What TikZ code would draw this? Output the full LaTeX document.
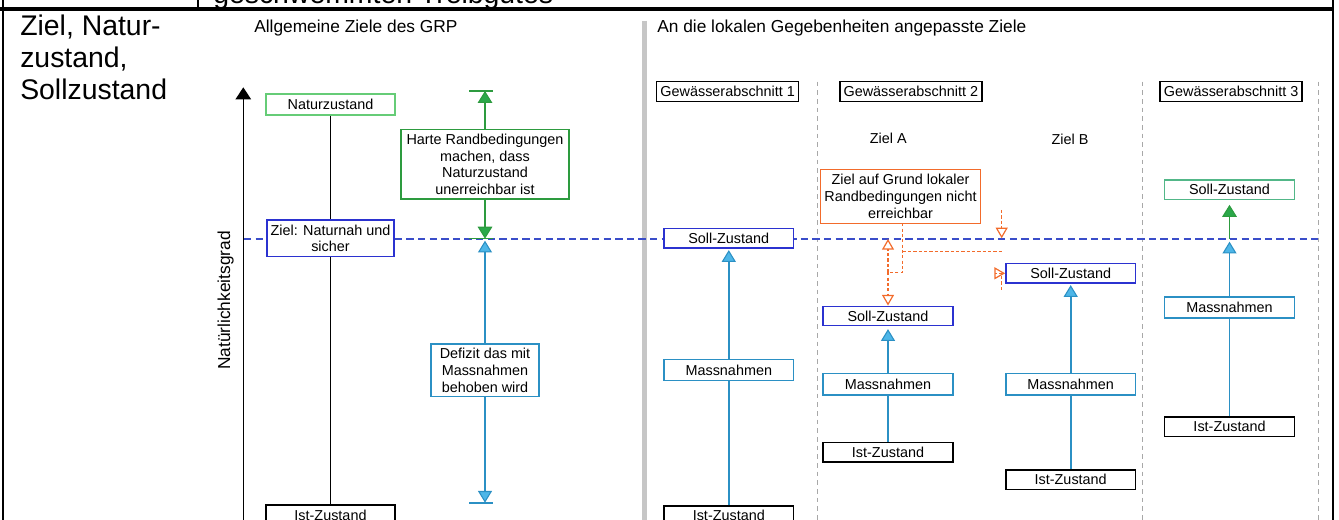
\documentclass[tikz,border=0pt]{standalone}
\usepackage{fontspec}
\setmainfont{Liberation Sans}
\usetikzlibrary{arrows.meta,calc}
\definecolor{cNat}{HTML}{66CC77}
\definecolor{cGreen}{HTML}{2D9B3F}
\definecolor{cGreenFill}{HTML}{2BA84A}
\definecolor{cSollG}{HTML}{52B788}
\definecolor{cBlue}{HTML}{2B32D0}
\definecolor{cBlueDash}{HTML}{3A4DC9}
\definecolor{cTeal}{HTML}{2B90C4}
\definecolor{cTealFill}{HTML}{4DB6E8}
\definecolor{cOrange}{HTML}{F26B2B}
\definecolor{cGrayDash}{HTML}{A8A8A8}
\definecolor{cGrayBar}{HTML}{C6C6C6}
\begin{document}
\begin{tikzpicture}[x=0.75pt,y=-0.75pt,
  every node/.style={inner sep=0pt},
  bx/.style={draw, fill=white, align=center, line width=1.1pt, font=\fontsize{10.8pt}{12.5pt}\selectfont},
  lbl/.style={font=\fontsize{10.8pt}{12.5pt}\selectfont},
  head/.style={font=\fontsize{13pt}{15pt}\selectfont},
  big/.style={font=\fontsize{21.3pt}{24pt}\selectfont},
  rs/.style={minimum width=97.3pt, minimum height=14.6pt},
  rm/.style={minimum width=97.3pt, minimum height=15.9pt},
  gab/.style={bx, draw=black, minimum width=106.5pt, minimum height=15pt},
  blk/.style={draw=black, line width=1.05pt},
  greenline/.style={draw=cGreen, line width=1.2pt},
  tealline/.style={draw=cTeal, line width=1.2pt},
  greentip/.style={-{Triangle[width=11pt,length=9pt,fill=cGreenFill,line width=0.8pt]}},
  tealtip/.style={-{Triangle[width=10.5pt,length=8.8pt,fill=cTealFill,line width=0.8pt]}},
  odash/.style={draw=cOrange, line width=1.1pt, dash pattern=on 2.4pt off 1.6pt},
  otip/.style={-{Triangle[open,width=9pt,length=8pt,line width=0.9pt]}},
  tbl/.style={draw=black, line width=1.6pt}
]
\useasboundingbox (0,0) rectangle (1339,520);

% table frame
\coordinate (tl) at (0,9); \coordinate (tr) at (1334,9);
\coordinate (lt) at (3,0); \coordinate (lb) at (3,520);
\coordinate (rt) at (1333,0); \coordinate (rb) at (1333,520);
\coordinate (ct) at (198,0); \coordinate (cb) at (198,9);
\draw[tbl, line width=2.3pt] (tl) -- (tr);
\draw[tbl] (lt) -- (lb);
\draw[tbl] (rt) -- (rb);
\draw[tbl] (ct) -- (cb);
\node[big, anchor=base west] (top) at (213,4) {geschwemmten Treibgutes};

% left cell title
\node[big, anchor=base west] (t1) at (20,35.7) {Ziel, Natur-};
\node[big, anchor=base west] (t2) at (20,68) {zustand,};
\node[big, anchor=base west] (t3) at (20,100) {Sollzustand};

% headings
\node[head, anchor=base west] (h1) at (254,32.7) {Allgemeine Ziele des GRP};
\node[head, anchor=base west] (h2) at (657,32.7) {An die lokalen Gegebenheiten angepasste Ziele};

% gray separators
\coordinate (gbT) at (644.5,20.7); \coordinate (gbB) at (644.5,520);
\draw[cGrayBar, line width=3.8pt] (gbT) -- (gbB);
\foreach \x/\n in {817.7/1,1142.3/2,1318.3/3}{
  \coordinate (vt\n) at (\x,81.7); \coordinate (vb\n) at (\x,520);
  \draw[cGrayDash, line width=0.75pt, dash pattern=on 3.5pt off 3pt] (vt\n) -- (vb\n);
}

% target level dashed line
\coordinate (dl) at (244,238.7); \coordinate (dr) at (1318,238.7);
\draw[cBlueDash, line width=1.35pt, dash pattern=on 5.5pt off 3.2pt] (dl) -- (dr);

% axis
\coordinate (axB) at (243.3,522); \coordinate (axT) at (243.3,87.3);
\draw[black, line width=1.05pt, -{Triangle[width=11.5pt,length=9pt,fill=black]}] (axB) -- (axT);
\node[head, rotate=90, anchor=base] (axl) at (230.2,300.5) {Natürlichkeitsgrad};

% left column
\node[bx, draw=cNat, minimum width=96.75pt, minimum height=15.75pt] (natur) at (330.5,104.5) {Naturzustand};
\node[bx, draw=cBlue, minimum width=95.25pt, minimum height=27.4pt] (ziel) at (330.5,238.2) {Ziel: Naturnah und\\sicher};
\node[bx, draw=black, minimum width=96.75pt, minimum height=16pt] (ist0) at (330.5,515.7) {Ist-Zustand};
\draw[blk] (natur) -- (ziel);
\draw[blk] (ziel) -- (ist0);

% deficit column
\node[bx, draw=cGreen, minimum width=126pt, minimum height=52.3pt] (harte) at (485,164.2) {Harte Randbedingungen\\machen, dass\\Naturzustand\\unerreichbar ist};
\node[bx, draw=cTeal, minimum width=80.8pt, minimum height=39.2pt] (defizit) at (485,370.2) {Defizit das mit\\Massnahmen\\behoben wird};
\coordinate (gT) at (485,91); \coordinate (gTl) at (469,91); \coordinate (gTr) at (493,91);
\coordinate (gM) at (485,238.7); \coordinate (gMl) at (469,238.7); \coordinate (gMr) at (493,238.7);
\coordinate (bT) at (485,240.7);
\coordinate (bB) at (485,502.7); \coordinate (bBl) at (469,502.7); \coordinate (bBr) at (493,502.7);
\draw[greenline, greentip] (harte) -- (gT);
\draw[greenline, greentip] (harte) -- (gM);
\draw[greenline] (gTl) -- (gTr);
\draw[greenline] (gMl) -- (gMr);
\draw[tealline, tealtip] (defizit) -- (bT);
\draw[tealline, tealtip] (defizit) -- (bB);
\draw[tealline] (bBl) -- (bBr);

% Gewaesserabschnitte
\node[gab] (ga1) at (727.7,91.7) {Gewässerabschnitt 1};
\node[gab] (ga2) at (910.8,91.7) {Gewässerabschnitt 2};
\node[gab] (ga3) at (1231.2,91.7) {Gewässerabschnitt 3};
\node[lbl, anchor=base] (za) at (888.3,143.4) {Ziel A};
\node[lbl, anchor=base] (zb) at (1070,145) {Ziel B};

% GA1
\node[bx, rs, draw=cBlue] (soll1) at (728.8,238.3) {Soll-Zustand};
\node[bx, rm, draw=cTeal] (mass1) at (728.8,370) {Massnahmen};
\node[bx, rs, draw=black] (ist1) at (728.8,515.5) {Ist-Zustand};
\draw[tealline, tealtip, shorten >=1pt] (mass1) -- (soll1);
\draw[tealline] (ist1) -- (mass1);

% GA2 Ziel A
\node[bx, rs, draw=cBlue] (sollA) at (888,316) {Soll-Zustand};
\node[bx, rm, draw=cTeal] (massA) at (888,384.2) {Massnahmen};
\node[bx, rs, draw=black] (istA) at (888,452.2) {Ist-Zustand};
\draw[tealline, tealtip, shorten >=2pt] (massA) -- (sollA);
\draw[tealline] (istA) -- (massA);

% GA2 Ziel B
\node[bx, rs, draw=cBlue] (sollB) at (1070.7,273.3) {Soll-Zustand};
\node[bx, rm, draw=cTeal] (massB) at (1070.7,384.2) {Massnahmen};
\node[bx, rs, draw=black] (istB) at (1070.7,479.7) {Ist-Zustand};
\draw[tealline, tealtip, shorten >=1pt] (massB) -- (sollB);
\draw[tealline] (istB) -- (massB);

% GA3
\node[bx, rs, draw=cSollG] (soll3) at (1229.5,189.7) {Soll-Zustand};
\node[bx, rm, draw=cTeal] (mass3) at (1229.5,307.5) {Massnahmen};
\node[bx, rs, draw=black] (ist3) at (1229.5,426.8) {Ist-Zustand};
\coordinate (g3) at (1229.5,239); \coordinate (b3) at (1229.5,241.7);
\draw[greenline, greentip, shorten >=3.5pt] (g3) -- (soll3);
\draw[tealline, tealtip] (mass3) -- (b3);
\draw[tealline] (ist3) -- (mass3);

% orange note
\node[bx, draw=cOrange, minimum width=120.3pt, minimum height=40.5pt] (orng) at (900.5,196.3) {Ziel auf Grund lokaler\\Randbedingungen nicht\\erreichbar};
\coordinate (oS) at (902.7,223.3);
\coordinate (oL) at (888,272.3);
\coordinate (oUp) at (888,239);
\coordinate (oJ) at (902.7,251.7); \coordinate (oR) at (1001.7,251.7);
\coordinate (oRt) at (1001.7,210); \coordinate (oRd) at (1001.7,238.3);
\coordinate (oRb) at (1001.7,290);
\draw[odash] (oS) |- (oL);
\draw[odash, otip] (oL) -- (oUp);
\draw[odash, otip] (oL) -- (sollA);
\draw[odash] (oJ) -- (oR);
\draw[odash, otip] (oRt) -- (oRd);
\draw[odash, otip] (oRb) |- (sollB);
\end{tikzpicture}
\end{document}
